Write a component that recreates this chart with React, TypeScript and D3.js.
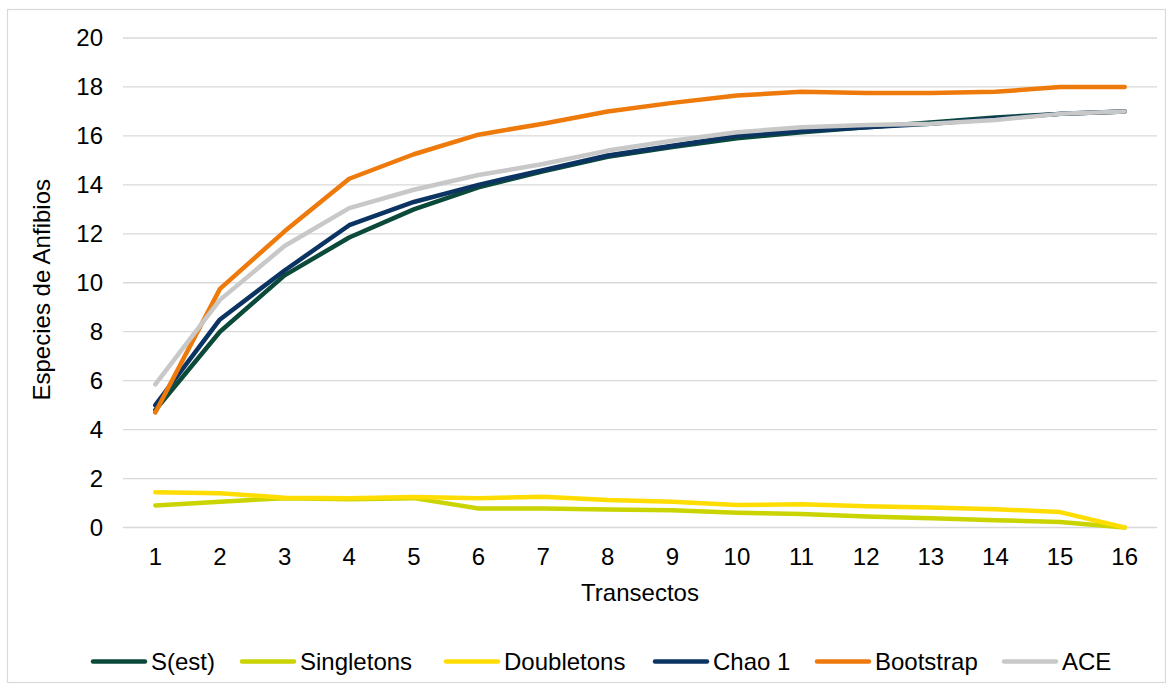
import React from "react";
import * as d3 from "d3";

const categories = ["1","2","3","4","5","6","7","8","9","10","11","12","13","14","15","16"];
const sEst = [4.8, 8.0, 10.3, 11.85, 13.0, 13.9, 14.55, 15.15, 15.55, 15.9, 16.15, 16.35, 16.55, 16.75, 16.9, 17.0];
const singletons = [0.9, 1.05, 1.2, 1.15, 1.2, 0.78, 0.78, 0.74, 0.7, 0.6, 0.55, 0.45, 0.38, 0.3, 0.22, 0];
const doubletons = [1.44, 1.4, 1.22, 1.2, 1.25, 1.2, 1.26, 1.12, 1.05, 0.92, 0.95, 0.87, 0.82, 0.75, 0.63, 0];
const chao1 = [5.0, 8.5, 10.5, 12.35, 13.3, 14.0, 14.6, 15.2, 15.6, 16.0, 16.2, 16.35, 16.5, 16.7, 16.9, 17.0];
const bootstrap = [4.7, 9.75, 12.1, 14.25, 15.25, 16.05, 16.5, 17.0, 17.35, 17.65, 17.8, 17.75, 17.75, 17.8, 18.0, 18.0];
const ace = [5.85, 9.3, 11.5, 13.05, 13.8, 14.4, 14.85, 15.4, 15.8, 16.15, 16.35, 16.45, 16.5, 16.65, 16.9, 17.0];
const yTicks = [0, 2, 4, 6, 8, 10, 12, 14, 16, 18, 20];

const seriesNames = ["S(est)", "Singletons", "Doubletons", "Chao 1", "Bootstrap", "ACE"];
const seriesData = [sEst, singletons, doubletons, chao1, bootstrap, ace];
const seriesColors = ["#0b4a3b", "#c9d400", "#ffdd00", "#0b3463", "#ee7a0c", "#c8c8c8"];
const legendTextX = [151, 300, 504, 713, 875, 1062];

const W = 1173, H = 690;
const left = 123, right = 1157, top = 38, bottom = 527.5;
const font = "'Liberation Sans', Arial, sans-serif";
const FS = 24;

export default function App() {
  const x = d3.scalePoint<string>().domain(categories).range([left, right]).padding(0.5);
  const y = d3.scaleLinear().domain([0, 20]).range([bottom, top]);
  const line = d3.line<number>().x((_, i) => x(categories[i]) as number).y((d) => y(d));

  return (
    <svg width={W} height={H} style={{ position: "absolute", left: 0, top: 0, background: "#fff" }} fontFamily={font}>
      <rect x={7.5} y={9.5} width={1158} height={673} fill="#fff" stroke="#d9d9d9" strokeWidth={1.2} />
      {yTicks.map((t) => (
        <g key={t}>
          <line x1={left} x2={right} y1={y(t)} y2={y(t)} stroke="#d9d9d9" strokeWidth={1.3} />
          <text x={103} y={y(t)} dy="0.35em" textAnchor="end" fontSize={FS} fill="#000">{t}</text>
        </g>
      ))}
      {categories.map((c) => (
        <text key={c} x={x(c)} y={565} textAnchor="middle" fontSize={FS} fill="#000">{c}</text>
      ))}
      <text x={640} y={601} textAnchor="middle" fontSize={FS} fill="#000">Transectos</text>
      <text transform={`translate(42,${(top + bottom) / 2 + 7}) rotate(-90)`} dy="0.35em" textAnchor="middle" fontSize={FS} fill="#000">Especies de Anfibios</text>
      {seriesData.map((s, i) => (
        <path key={seriesNames[i]} d={line(s) || ""} fill="none" stroke={seriesColors[i]} strokeWidth={4.5} strokeLinejoin="round" strokeLinecap="round" />
      ))}
      {seriesNames.map((n, i) => (
        <g key={n}>
          <line x1={legendTextX[i] - 58} x2={legendTextX[i] - 6} y1={661.5} y2={661.5} stroke={seriesColors[i]} strokeWidth={4.5} strokeLinecap="round" />
          <text x={legendTextX[i]} y={661.5} dy="0.35em" fontSize={FS} fill="#000">{n}</text>
        </g>
      ))}
    </svg>
  );
}
